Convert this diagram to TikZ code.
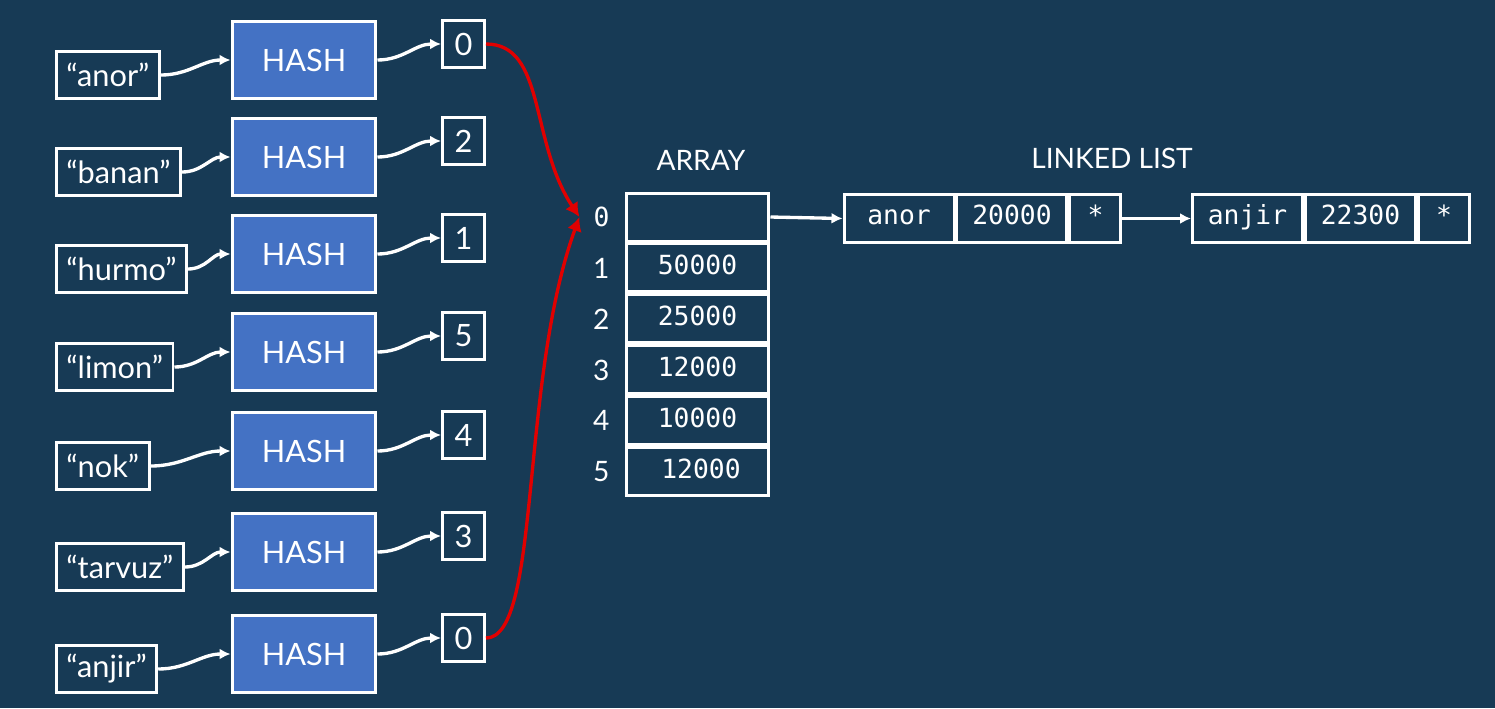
\documentclass[tikz,border=0pt]{standalone}
\usepackage{fontspec}
\setmainfont{Lato}
\setsansfont{Lato}
\setmonofont{DejaVu Sans Mono}
\usepackage{xcolor}
\definecolor{slidebg}{HTML}{173A55}
\definecolor{hashblue}{HTML}{4472C4}
\definecolor{linkred}{HTML}{E10000}
\usetikzlibrary{arrows.meta,positioning}

\begin{document}
\begin{tikzpicture}[
  x=0.02cm, y=-0.02cm,
  every node/.style={font=\fontsize{15}{18}\selectfont, text=white},
  keybox/.style={rectangle, draw=white, line width=1.7pt, fill=slidebg, minimum height=0.94cm, inner xsep=0.2cm, font=\fontsize{17.5}{20}\selectfont},
  hashbox/.style={rectangle, draw=white, line width=1.7pt, fill=hashblue, minimum width=2.88cm, minimum height=1.54cm, font=\fontsize{17.5}{20}\selectfont},
  bucket/.style={rectangle, draw=white, line width=1.7pt, fill=slidebg, minimum width=0.84cm, minimum height=0.94cm, font=\fontsize{17.5}{20}\selectfont},
  arrcell/.style={rectangle, draw=white, line width=1.7pt, minimum width=2.86cm, minimum height=0.96cm, text height=0.73em, text depth=0pt, font=\fontsize{15}{18}\selectfont\ttfamily},
  lstcell/.style={rectangle, draw=white, line width=1.7pt, minimum height=0.96cm, text height=0.73em, text depth=0pt, font=\fontsize{15}{18}\selectfont\ttfamily},
  rowno/.style={inner sep=1pt, font=\fontsize{16}{18}\selectfont},
  wire/.style={white, line width=1.9pt, -{Latex[length=2.2mm,width=2.2mm]}},
  redlink/.style={linkred, line width=1.9pt, -{Latex[length=2.8mm,width=3mm]}},
]
  \useasboundingbox (0,0) rectangle (1495,708);
  \fill[slidebg] (0,0) rectangle (1495,708);

  % keys -> hash -> bucket index
  \foreach \i/\word/\bkt/\y in {1/anor/0/60, 2/banan/2/157, 3/hurmo/1/254, 4/limon/5/352,
                                5/nok/4/451, 6/tarvuz/3/552, 7/anjir/0/654} {
    \node[keybox, anchor=west] (key\i) at (55,\y+15) {“\word”};
    \node[hashbox] (hash\i) at (304,\y) {HASH};
    \node[bucket] (idx\i) at (463.5,\y-16) {\bkt};
    \draw[wire] (key\i.east) to[out=0, in=180] (hash\i.west);
    \draw[wire] (hash\i.east) to[out=0, in=180] (idx\i.west);
  }

  % array
  \node[font=\fontsize{16}{18}\selectfont] (arrtitle) at (701,160) {ARRAY};
  \node[arrcell] (row0) at (697.5,217) {};
  \node[arrcell, below=0pt of row0] (row1) {50000};
  \node[arrcell, below=0pt of row1] (row2) {25000};
  \node[arrcell, below=0pt of row2] (row3) {12000};
  \node[arrcell, below=0pt of row3] (row4) {10000};
  \node[arrcell, below=0pt of row4] (row5) {\hspace{4pt}12000};
  \node[rowno, left=0.26cm of row0, font=\fontsize{15}{18}\selectfont\ttfamily] (lbl0) {0};
  \foreach \r in {1,...,5}
    \node[rowno, left=0.26cm of row\r] (lbl\r) {\r};

  % collisions on bucket 0
  \coordinate (hook) at ([xshift=-0.24cm]lbl0.west);
  \draw[redlink] (idx1.east) .. controls +(60,0) and +(-50,-75) .. (hook);
  \draw[redlink] (idx7.east) .. controls +(55,0) and +(-60,165) .. (hook);

  % linked list
  \node[font=\fontsize{16}{18}\selectfont] (lsttitle) at (1112,158) {LINKED LIST};
  \node[lstcell, minimum width=2.2cm] (n1key) at (899,218.5) {anor};
  \node[lstcell, minimum width=2.2cm, right=0pt of n1key] (n1val) {20000};
  \node[lstcell, minimum width=1.02cm, right=0pt of n1val] (n1ptr) {*};
  \node[lstcell, minimum width=2.2cm] (n2key) at (1247.5,218.5) {anjir};
  \node[lstcell, minimum width=2.2cm, right=0pt of n2key] (n2val) {22300};
  \node[lstcell, minimum width=1.02cm, right=0pt of n2val] (n2ptr) {*};

  \draw[wire] (row0.east) -- (n1key.west);
  \draw[wire] (n1ptr.east) -- (n2key.west);
\end{tikzpicture}
\end{document}
